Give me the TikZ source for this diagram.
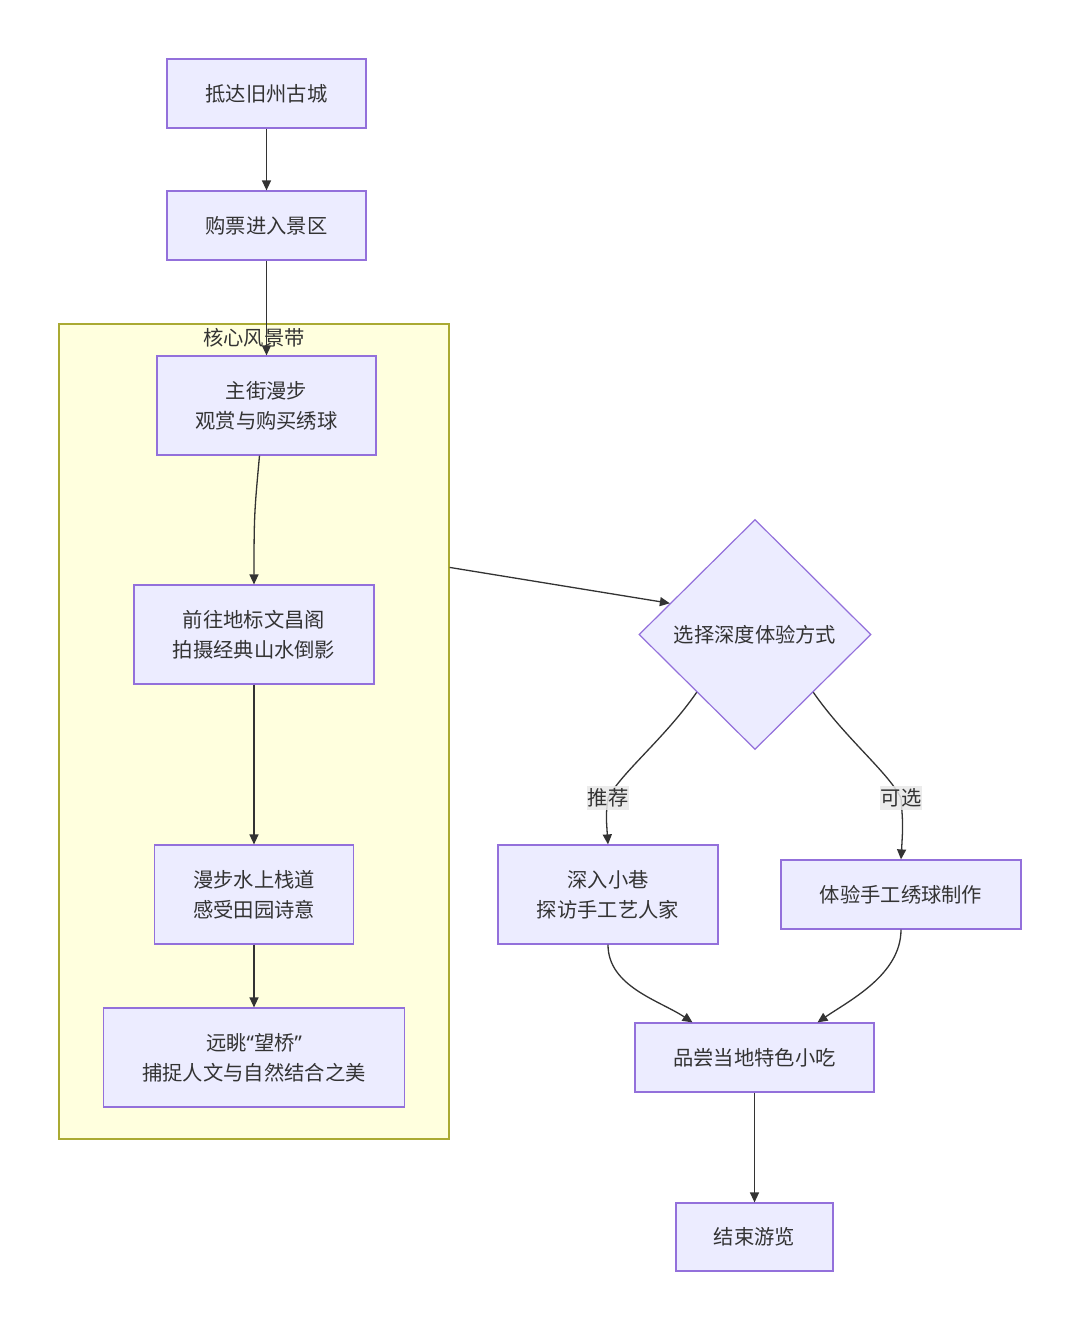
\documentclass[tikz,border=0pt]{standalone}
\usepackage{fontspec}
\setmainfont{Noto Sans CJK SC}
\newfontfamily\qfont{Noto Sans}
\usetikzlibrary{shapes.geometric,arrows.meta,calc}
\definecolor{nfill}{HTML}{ECECFF}
\definecolor{nline}{HTML}{9370DB}
\definecolor{cfill}{HTML}{FFFFDE}
\definecolor{cline}{HTML}{AAAA33}
\definecolor{eline}{HTML}{333333}
\definecolor{lbg}{HTML}{E8E8E8}
\definecolor{tcol}{HTML}{333333}
\begin{document}
\begin{tikzpicture}[x=1pt,y=-1pt,
  txt/.style={text=tcol,font=\fontsize{20.3}{30}\selectfont},
  box/.style={txt,draw=nline,fill=nfill,line width=1.2pt,inner sep=0pt,align=center},
  arr/.style={draw=eline,line width=1.3pt,-{Triangle[length=10pt,width=9pt]}},
  elbl/.style={txt,fill=lbg,fill opacity=0.85,text opacity=1,inner xsep=1pt,inner ysep=3pt}]
\useasboundingbox (0,0) rectangle (1080,1331);
\fill[white] (0,0) rectangle (1080,1331);
% cluster
\node[draw=cline,fill=cfill,line width=1.2pt,minimum width=390pt,minimum height=815pt,inner sep=0pt] (clu) at (254,731.5) {};
\node[txt] (clt) at (254,338) {核心风景带};
% nodes
\node[box,minimum width=199pt,minimum height=69pt] (A) at (266.5,93.5) {抵达旧州古城};
\node[box,minimum width=199pt,minimum height=69pt] (B) at (266.5,225.5) {购票进入景区};
\node[box,minimum width=219pt,minimum height=99pt] (C) at (266.5,405.5) {主街漫步\\观赏与购买绣球};
\node[box,minimum width=240pt,minimum height=99pt] (D) at (254,634.5) {前往地标文昌阁\\拍摄经典山水倒影};
\node[box,minimum width=199pt,minimum height=99pt] (E) at (254,894.5) {漫步水上栈道\\感受田园诗意};
\node[box,minimum width=301pt,minimum height=99pt] (F) at (254,1057.5) {远眺{\qfont“}望桥{\qfont”}\\捕捉人文与自然结合之美};
\node[box,shape=diamond,minimum width=232pt,minimum height=230pt] (G) at (755,634.5) {选择深度体验方式};
\node[box,minimum width=220pt,minimum height=99pt] (H) at (608,894.5) {深入小巷\\探访手工艺人家};
\node[box,minimum width=240pt,minimum height=69pt] (I) at (901,894.5) {体验手工绣球制作};
\node[box,minimum width=239pt,minimum height=69pt] (J) at (754.5,1057.5) {品尝当地特色小吃};
\node[box,minimum width=157pt,minimum height=68pt] (K) at (754.5,1237) {结束游览};
% edges
\draw[arr] (A) -- (B);
\draw[arr] (B) -- (C);
\draw[arr] ($(C.south)+(-7,0)$) .. controls ($(C.south)+(-12,55)$) and ($(D.north)+(0,-70)$) .. (D.north);
\draw[arr] (D) -- (E);
\draw[arr] (E) -- (F);
\coordinate (cs) at ($(clu.north east)+(0,244)$);
\draw[arr] (cs) -- ($(G.west)!0.27!(G.north)$);
\coordinate (la) at (608,798);
\coordinate (lb) at (901,798);
\draw[arr] (G.south west) .. controls (665,738) and (622,772) .. (la) .. controls (606,815) .. (H.north);
\draw[arr] (G.south east) .. controls (845,738) and (888,772) .. (lb) .. controls (903,825) .. (I.north);
\draw[arr] (H.south) .. controls ($(H.south)+(0,42)$) and ($(J.north)+(-95,-22)$) .. ($(J.north)+(-62,0)$);
\draw[arr] (I.south) .. controls ($(I.south)+(0,45)$) and ($(J.north)+(95,-22)$) .. ($(J.north)+(63,0)$);
\draw[arr] (J) -- (K);
% edge labels
\node[elbl] (lA) at (la) {推荐};
\node[elbl] (lB) at (lb) {可选};
\end{tikzpicture}
\end{document}
